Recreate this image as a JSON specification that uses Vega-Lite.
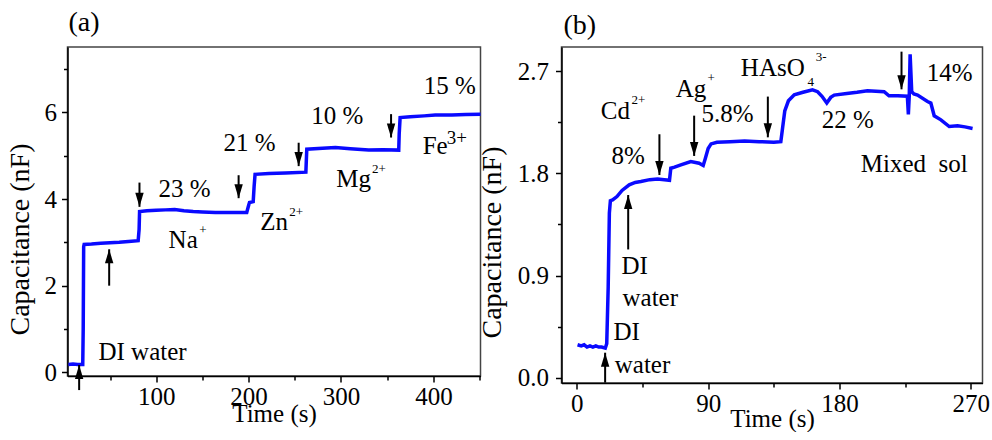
{
  "$schema": "https://vega.github.io/schema/vega-lite/v6.json",
  "padding": {"left": 4.5, "top": 8, "right": 0, "bottom": 0},
  "bounds": "flush",
  "spacing": 81,
  "config": {
    "font": "Liberation Serif",
    "view": {"stroke": "#444", "strokeWidth": 1.5},
    "axis": {
      "grid": false,
      "labelFont": "Liberation Serif",
      "titleFont": "Liberation Serif",
      "labelFontSize": 25,
      "titleFontWeight": "normal",
      "labelColor": "black",
      "titleColor": "black",
      "domainColor": "black",
      "tickColor": "black",
      "domainWidth": 1.5,
      "tickWidth": 1.5,
      "labelOverlap": false,
      "labelFlush": false
    },
    "text": {"font": "Liberation Serif", "color": "black"}
  },
  "datasets": {
    "lineA": [
      {"x": 5, "y": 0.18}, {"x": 10, "y": 0.19}, {"x": 15, "y": 0.18}, {"x": 20.5, "y": 0.18},
      {"x": 21, "y": 1.0}, {"x": 21.5, "y": 2.9}, {"x": 22, "y": 2.95}, {"x": 30, "y": 2.96},
      {"x": 40, "y": 2.98}, {"x": 50, "y": 2.99}, {"x": 60, "y": 3.0}, {"x": 70, "y": 3.02},
      {"x": 80.5, "y": 3.04}, {"x": 81.5, "y": 3.3}, {"x": 82, "y": 3.71}, {"x": 90, "y": 3.73},
      {"x": 100, "y": 3.74}, {"x": 110, "y": 3.75}, {"x": 120, "y": 3.76}, {"x": 130, "y": 3.73},
      {"x": 140, "y": 3.71}, {"x": 150, "y": 3.7}, {"x": 164, "y": 3.69}, {"x": 180, "y": 3.69},
      {"x": 198, "y": 3.69}, {"x": 200, "y": 3.85}, {"x": 201, "y": 3.92}, {"x": 205, "y": 3.94},
      {"x": 206, "y": 4.3}, {"x": 207, "y": 4.57}, {"x": 222, "y": 4.59}, {"x": 240, "y": 4.6},
      {"x": 262, "y": 4.62}, {"x": 262.5, "y": 4.9}, {"x": 263, "y": 5.15}, {"x": 280, "y": 5.17},
      {"x": 294, "y": 5.19}, {"x": 310, "y": 5.16}, {"x": 330, "y": 5.13}, {"x": 345, "y": 5.14},
      {"x": 362.5, "y": 5.13}, {"x": 363, "y": 5.5}, {"x": 364, "y": 5.88}, {"x": 375, "y": 5.9},
      {"x": 390, "y": 5.92}, {"x": 402, "y": 5.94}, {"x": 420, "y": 5.94}, {"x": 435, "y": 5.95},
      {"x": 451, "y": 5.96}
    ],
    "arrowsA": [
      {"x": 16.6, "y": 0.17, "tail": -0.41, "dir": "up"},
      {"x": 49.1, "y": 2.84, "tail": 2.0, "dir": "up"},
      {"x": 81.9, "y": 3.82, "tail": 4.38, "dir": "down"},
      {"x": 189.2, "y": 4.02, "tail": 4.55, "dir": "down"},
      {"x": 254.2, "y": 4.76, "tail": 5.3, "dir": "down"},
      {"x": 354.2, "y": 5.42, "tail": 5.96, "dir": "down"}
    ],
    "textA": [
      {"t": "DI water", "x": 37.5, "y": 0.28},
      {"t": "23 %", "x": 102.5, "y": 4.04},
      {"t": "Na", "x": 113.4, "y": 2.88},
      {"t": "21 %", "x": 172.9, "y": 5.12},
      {"t": "Zn", "x": 212.6, "y": 3.28},
      {"t": "10 %", "x": 267.9, "y": 5.73},
      {"t": "Mg", "x": 295, "y": 4.28},
      {"t": "15 %", "x": 389.5, "y": 6.42},
      {"t": "Fe", "x": 388.4, "y": 5.04}
    ],
    "supA": [
      {"t": "+", "x": 146.6, "y": 3.28},
      {"t": "2+", "x": 244, "y": 3.69},
      {"t": "2+", "x": 333.6, "y": 4.69}
    ],
    "supBigA": [
      {"t": "3+", "x": 414.4, "y": 5.27}
    ],
    "lineB": [
      {"x": 0.5, "y": 0.29}, {"x": 3, "y": 0.28}, {"x": 5, "y": 0.29}, {"x": 7, "y": 0.27},
      {"x": 9, "y": 0.28}, {"x": 11, "y": 0.27}, {"x": 13, "y": 0.28}, {"x": 15, "y": 0.27},
      {"x": 17, "y": 0.27}, {"x": 19.5, "y": 0.26}, {"x": 20.5, "y": 0.3}, {"x": 21.5, "y": 0.8},
      {"x": 22.3, "y": 1.45}, {"x": 23, "y": 1.56}, {"x": 24.5, "y": 1.567}, {"x": 27.5, "y": 1.596},
      {"x": 31, "y": 1.65}, {"x": 35.9, "y": 1.699}, {"x": 40, "y": 1.72}, {"x": 43.9, "y": 1.728},
      {"x": 50, "y": 1.745}, {"x": 55.3, "y": 1.75}, {"x": 60, "y": 1.745}, {"x": 63.5, "y": 1.74},
      {"x": 64.4, "y": 1.846}, {"x": 67, "y": 1.855}, {"x": 71.3, "y": 1.875}, {"x": 78.1, "y": 1.905},
      {"x": 83.8, "y": 1.89}, {"x": 86.6, "y": 1.87}, {"x": 88, "y": 1.93}, {"x": 90, "y": 2.02},
      {"x": 92, "y": 2.06}, {"x": 96, "y": 2.075}, {"x": 105, "y": 2.08}, {"x": 115, "y": 2.085},
      {"x": 125, "y": 2.08}, {"x": 135, "y": 2.075}, {"x": 139.8, "y": 2.08}, {"x": 141, "y": 2.2},
      {"x": 142.5, "y": 2.35}, {"x": 145, "y": 2.44}, {"x": 149, "y": 2.493}, {"x": 155, "y": 2.515},
      {"x": 161.5, "y": 2.537}, {"x": 165, "y": 2.52}, {"x": 168, "y": 2.48}, {"x": 171.3, "y": 2.42},
      {"x": 174, "y": 2.47}, {"x": 176.4, "y": 2.49}, {"x": 185, "y": 2.505}, {"x": 192, "y": 2.515},
      {"x": 199.2, "y": 2.528}, {"x": 210.6, "y": 2.52}, {"x": 213.9, "y": 2.484}, {"x": 220, "y": 2.485},
      {"x": 226.5, "y": 2.48}, {"x": 227.2, "y": 2.32}, {"x": 227.8, "y": 2.48}, {"x": 228.4, "y": 2.85},
      {"x": 229.5, "y": 2.52}, {"x": 231, "y": 2.5}, {"x": 233.5, "y": 2.49}, {"x": 240.3, "y": 2.434},
      {"x": 242.6, "y": 2.42}, {"x": 244.9, "y": 2.308}, {"x": 249.5, "y": 2.272}, {"x": 255.2, "y": 2.213},
      {"x": 260.9, "y": 2.22}, {"x": 266, "y": 2.21}, {"x": 271.2, "y": 2.196}
    ],
    "arrowsB": [
      {"x": 19.4, "y": 0.22, "tail": -0.044, "dir": "up"},
      {"x": 35.2, "y": 1.61, "tail": 1.13, "dir": "up"},
      {"x": 56.6, "y": 1.786, "tail": 2.145, "dir": "down"},
      {"x": 80.4, "y": 1.954, "tail": 2.309, "dir": "down"},
      {"x": 130.9, "y": 2.118, "tail": 2.477, "dir": "down"},
      {"x": 222.5, "y": 2.541, "tail": 2.873, "dir": "down"}
    ],
    "textB": [
      {"t": "Cd", "x": 16.4, "y": 2.277},
      {"t": "Ag", "x": 67.8, "y": 2.476},
      {"t": "5.8%", "x": 85.4, "y": 2.256},
      {"t": "HAsO", "x": 112.4, "y": 2.659},
      {"t": "22 %", "x": 167.9, "y": 2.203},
      {"t": "14%", "x": 239.8, "y": 2.615},
      {"t": "8%", "x": 23.8, "y": 1.88},
      {"t": "Mixed\u00a0 sol", "x": 194.6, "y": 1.816},
      {"t": "DI", "x": 30.6, "y": 0.914},
      {"t": "water", "x": 31.3, "y": 0.632},
      {"t": "DI", "x": 25.1, "y": 0.332},
      {"t": "water", "x": 26, "y": 0.044}
    ],
    "supB": [
      {"t": "2+", "x": 37.5, "y": 2.447},
      {"t": "+", "x": 89.5, "y": 2.638},
      {"t": "4", "x": 158, "y": 2.609},
      {"t": "3-", "x": 163.8, "y": 2.829}
    ]
  },
  "hconcat": [
    {
      "width": 413,
      "height": 329,
      "title": {"text": "(a)", "anchor": "start", "frame": "group", "fontSize": 28, "font": "Liberation Serif", "fontWeight": "normal", "baseline": "alphabetic", "offset": -12, "dx": 1, "color": "black"},
      "encoding": {
        "x": {
          "field": "x", "type": "quantitative",
          "scale": {"domain": [4, 451], "nice": false, "zero": false},
          "axis": {
            "title": "Time (s)", "titleFontSize": 25, "titlePadding": -8,
            "values": [50, 100, 150, 200, 250, 300, 350, 400, 450],
            "labelExpr": "datum.value % 100 === 0 ? datum.label : ''",
            "tickSize": {"condition": {"test": "datum.value % 100 === 0", "value": 6}, "value": 4},
            "labelPadding": 2
          }
        },
        "y": {
          "field": "y", "type": "quantitative",
          "scale": {"domain": [-0.085, 7.51], "nice": false, "zero": false},
          "axis": {
            "title": "Capacitance (nF)", "titleFont": "Liberation Serif", "titleFontSize": 28, "titlePadding": 10, "titleY": 192,
            "values": [0, 1, 2, 3, 4, 5, 6, 7],
            "labelExpr": "datum.value % 2 === 0 ? datum.label : ''",
            "tickSize": {"condition": {"test": "datum.value % 2 === 0", "value": 6}, "value": 4},
            "labelPadding": 5
          }
        }
      },
      "layer": [
        {"data": {"name": "lineA"}, "mark": {"type": "line", "color": "#0a0aff", "strokeWidth": 3.5}},
        {"data": {"name": "arrowsA"}, "mark": {"type": "rule", "color": "black", "strokeWidth": 2}, "encoding": {"y2": {"field": "tail"}}},
        {"data": {"name": "arrowsA"}, "mark": {"type": "point", "filled": true, "color": "black", "size": 196, "opacity": 1, "strokeWidth": 0},
         "encoding": {"shape": {"field": "dir", "type": "nominal", "scale": {"domain": ["up", "down"], "range": ["M0,0L-0.6,2L0.6,2Z", "M0,0L-0.6,-2L0.6,-2Z"]}, "legend": null}}},
        {"data": {"name": "textA"}, "mark": {"type": "text", "align": "left", "baseline": "alphabetic", "fontSize": 25, "font": "Liberation Serif", "color": "black"}, "encoding": {"text": {"field": "t"}}},
        {"data": {"name": "supA"}, "mark": {"type": "text", "align": "left", "baseline": "middle", "fontSize": 13, "font": "Liberation Serif", "color": "black"}, "encoding": {"text": {"field": "t"}}},
        {"data": {"name": "supBigA"}, "mark": {"type": "text", "align": "left", "baseline": "alphabetic", "fontSize": 19, "font": "Liberation Serif", "color": "black"}, "encoding": {"text": {"field": "t"}}}
      ]
    },
    {
      "width": 421,
      "height": 336,
      "title": {"text": "(b)", "anchor": "start", "frame": "group", "fontSize": 28, "font": "Liberation Serif", "fontWeight": "normal", "baseline": "alphabetic", "offset": -15, "dx": 2, "color": "black"},
      "encoding": {
        "x": {
          "field": "x", "type": "quantitative",
          "scale": {"domain": [-10.5, 278], "nice": false, "zero": false},
          "axis": {
            "title": "Time (s)", "titleFontSize": 25, "titlePadding": -10,
            "values": [0, 45, 90, 135, 180, 225, 270],
            "labelExpr": "datum.value % 90 === 0 ? datum.label : ''",
            "tickSize": {"condition": {"test": "datum.value % 90 === 0", "value": 6}, "value": 4},
            "labelPadding": 2
          }
        },
        "y": {
          "field": "y", "type": "quantitative",
          "scale": {"domain": [-0.047, 2.914], "nice": false, "zero": false},
          "axis": {
            "title": "Capacitance (nF)", "titleFont": "Liberation Serif", "titleFontSize": 28, "titlePadding": 11, "titleY": 195,
            "values": [0, 0.45, 0.9, 1.35, 1.8, 2.25, 2.7],
            "format": ".1f",
            "labelExpr": "abs(datum.value / 0.9 - round(datum.value / 0.9)) < 0.01 ? datum.label : ''",
            "tickSize": {"condition": {"test": "abs(datum.value / 0.9 - round(datum.value / 0.9)) < 0.01", "value": 6}, "value": 4},
            "labelPadding": 7
          }
        }
      },
      "layer": [
        {"data": {"name": "lineB"}, "mark": {"type": "line", "color": "#0a0aff", "strokeWidth": 3.5}},
        {"data": {"name": "arrowsB"}, "mark": {"type": "rule", "color": "black", "strokeWidth": 2}, "encoding": {"y2": {"field": "tail"}}},
        {"data": {"name": "arrowsB"}, "mark": {"type": "point", "filled": true, "color": "black", "size": 196, "opacity": 1, "strokeWidth": 0},
         "encoding": {"shape": {"field": "dir", "type": "nominal", "scale": {"domain": ["up", "down"], "range": ["M0,0L-0.6,2L0.6,2Z", "M0,0L-0.6,-2L0.6,-2Z"]}, "legend": null}}},
        {"data": {"name": "textB"}, "mark": {"type": "text", "align": "left", "baseline": "alphabetic", "fontSize": 25, "font": "Liberation Serif", "color": "black"}, "encoding": {"text": {"field": "t"}}},
        {"data": {"name": "supB"}, "mark": {"type": "text", "align": "left", "baseline": "middle", "fontSize": 13, "font": "Liberation Serif", "color": "black"}, "encoding": {"text": {"field": "t"}}}
      ]
    }
  ]
}
